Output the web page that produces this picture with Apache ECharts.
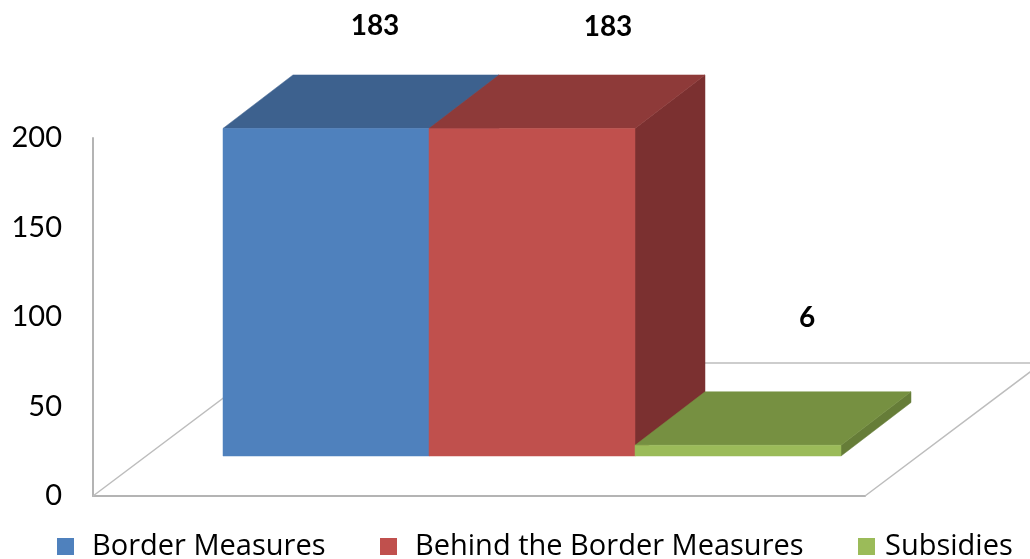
<!DOCTYPE html>
<html>
<head>
<meta charset="utf-8">
<style>html,body{margin:0;padding:0;background:#fff}#c{width:1030px;height:559px}</style>
<script src="https://cdn.jsdelivr.net/npm/echarts@6/dist/echarts.min.js"></script>
</head>
<body>
<div id="c"></div>
<script>
var categories = ['Measures'];
var seriesNames = ['Border Measures', 'Behind the Border Measures', 'Subsidies'];
var borderValues = [183];
var behindValues = [183];
var subsidyValues = [6];
var yTicks = {min: 0, max: 200, interval: 50};

var palette = [
  {front: '#4f81bd', top: '#3d618e', side: '#3a5c87'},
  {front: '#c0504d', top: '#8e3a39', side: '#7b3030'},
  {front: '#9bbb59', top: '#769041', side: '#667d38'}
];
var FONT = 'Lato';
var LEGEND_FONT = '"Open Sans"';
var shift = [50, -40], depth = [70, -53.5], floorDepth = [177, -133];
var barGap = 80, barW = 206;
var labelOff = [[49, -102], [76, -101], [69, -127]];

function poly(points, color) {
  return {type: 'polygon', shape: {points: points}, style: {fill: color, stroke: color, lineWidth: 0.5}};
}
function renderBar(params, api) {
  var i = params.seriesIndex - 1;
  var base = api.coord([0, 0]), topPt = api.coord([0, api.value(1)]);
  var band = api.size([1, 0])[0];
  var x0 = base[0] - band / 2 + barGap + i * barW + shift[0];
  var x1 = x0 + barW;
  var yb = base[1] + shift[1], yt = topPt[1] + shift[1];
  var c = palette[i];
  var dx = depth[0], dy = depth[1];
  return {type: 'group', children: [
    poly([[x1, yt], [x1 + dx, yt + dy], [x1 + dx, yb + dy], [x1, yb]], c.side),
    poly([[x0, yt], [x1, yt], [x1 + dx, yt + dy], [x0 + dx, yt + dy]], c.top),
    poly([[x0, yt], [x1, yt], [x1, yb], [x0, yb]], c.front),
    {type: 'text', z2: 10, style: {
      text: String(api.value(1)), x: (x0 + x1) / 2 + labelOff[i][0], y: yt + labelOff[i][1],
      align: 'center', verticalAlign: 'middle', fill: '#000', font: 'bold 28px ' + FONT
    }}
  ]};
}
function renderFloor(params, api) {
  var o = api.coord([0, 0]);
  var band = api.size([1, 0])[0];
  var fx = o[0] - band / 2, fy = o[1];
  var rx = fx + band;
  return {type: 'polyline', shape: {points: [
    [fx, fy], [fx + floorDepth[0], fy + floorDepth[1]],
    [rx + floorDepth[0], fy + floorDepth[1]], [rx, fy]
  ]}, style: {fill: 'none', stroke: '#bdbdbd', lineWidth: 1.5}};
}
function legendAt(name, left, gap) {
  return {data: [name], left: left, top: 532, itemWidth: 17, itemHeight: 17, itemGap: 0, padding: 0,
    icon: 'rect', selectedMode: false,
    textStyle: {fontFamily: LEGEND_FONT, fontSize: 29, color: '#000', padding: [0, 0, 0, gap - 5]}};
}
function barSeries(idx, values) {
  return {type: 'custom', name: seriesNames[idx], data: values.map(function (v, k) { return [k, v]; }),
    renderItem: renderBar, encode: {x: 0, y: 1}, itemStyle: {color: palette[idx].front}, silent: true, clip: false};
}
var chart = echarts.init(document.getElementById('c'), null, {renderer: 'canvas'});
chart.setOption({
  animation: false,
  backgroundColor: '#fff',
  grid: {left: 93, top: 138, width: 772, height: 358, containLabel: false},
  legend: [legendAt(seriesNames[0], 57, 18), legendAt(seriesNames[1], 380, 18), legendAt(seriesNames[2], 858, 10)],
  xAxis: {type: 'category', data: categories, axisTick: {show: false}, axisLabel: {show: false},
    axisLine: {show: true, lineStyle: {color: '#b4b4b4', width: 2}}},
  yAxis: {type: 'value', min: yTicks.min, max: yTicks.max, interval: yTicks.interval,
    splitLine: {show: false}, axisTick: {show: false},
    axisLine: {show: true, lineStyle: {color: '#b4b4b4', width: 2}},
    axisLabel: {margin: 31, fontFamily: FONT, fontSize: 29, color: '#000'}},
  series: [
    {type: 'custom', name: 'floor', data: [[0, 0]], renderItem: renderFloor, encode: {x: 0, y: 1}, silent: true, clip: false},
    barSeries(0, borderValues),
    barSeries(1, behindValues),
    barSeries(2, subsidyValues)
  ]
});
</script>
</body>
</html>
